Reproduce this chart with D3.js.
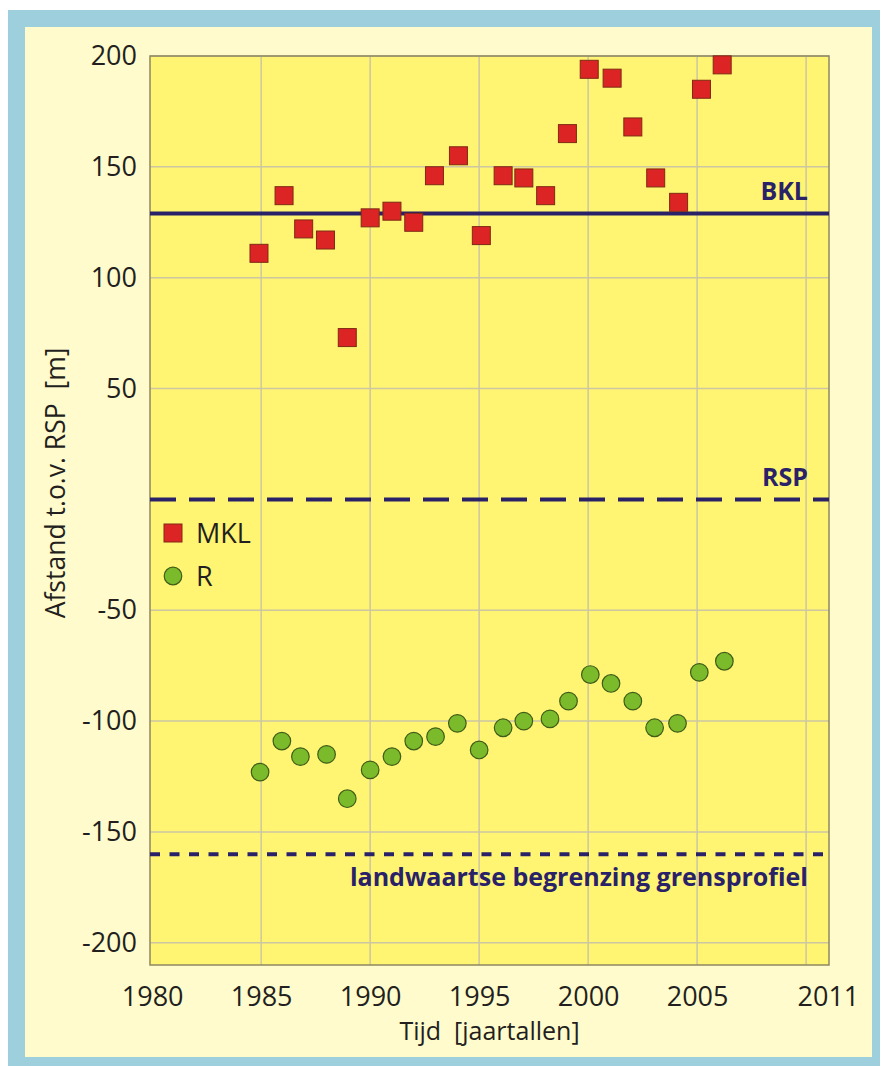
<!DOCTYPE html>
<html>
<head>
<meta charset="utf-8">
<script src="https://cdn.jsdelivr.net/npm/d3@7/dist/d3.min.js"></script>
<style>
  html, body { margin: 0; padding: 0; background: #ffffff; }
  svg { display: block; font-family: "Open Sans", "Noto Sans", sans-serif; }
  .pre { white-space: pre; }
</style>
</head>
<body>
<svg id="chart" width="882" height="1066"></svg>
<script>
// Kustlijnposities t.o.v. RSP (meetjaar, afstand in m)
const mklYears  = [1984.9, 1986.05, 1986.95, 1987.95, 1988.95, 1990.0, 1991.0, 1992.0, 1992.95, 1994.05, 1995.1,
                   1996.1, 1997.05, 1998.05, 1999.05, 2000.05, 2001.1, 2002.05, 2003.1, 2004.15, 2005.2, 2006.15];
const mklValues = [111, 137, 122, 117, 73, 127, 130, 125, 146, 155, 119,
                   146, 145, 137, 165, 194, 190, 168, 145, 134, 185, 196];

const rYears  = [1984.95, 1985.95, 1986.8, 1988.0, 1988.95, 1990.0, 1991.0, 1992.0, 1993.0, 1994.0, 1995.0,
                 1996.1, 1997.05, 1998.25, 1999.1, 2000.1, 2001.05, 2002.05, 2003.05, 2004.1, 2005.1, 2006.25];
const rValues = [-123, -109, -116, -115, -135, -122, -116, -109, -107, -101, -113,
                 -103, -100, -99, -91, -79, -83, -91, -103, -101, -78, -73];

// Referentielijnen
const refLines = [
  { key: "BKL", value: 129, label: "BKL" },
  { key: "RSP", value: 0, label: "RSP" },
  { key: "GP",  value: -160, label: "landwaartse begrenzing grensprofiel" }
];

const xTickLabels = [1980, 1985, 1990, 1995, 2000, 2005, 2011];
const xGridValues = [1985, 1990, 1995, 2000, 2005, 2010];
const yTickLabels = [200, 150, 100, 50, -50, -100, -150, -200];

const seriesNames = ["MKL", "R"];

// Layout
const W = 882, H = 1066;
const plot = { left: 150, right: 829, top: 56, bottom: 965 };

const colors = {
  frame: "#9dcfdc",
  panel: "#fffbcc",
  plotBg: "#fff573",
  grid: "#cdc6a2",
  border: "#8e8762",
  navy: "#2a2268",
  text: "#231f20",
  red: "#dc2424",
  redStroke: "#7e2a14",
  green: "#7bbb2b",
  greenStroke: "#3f5c18"
};

const svg = d3.select("#chart");

// Kader
svg.append("rect").attr("x", 8).attr("y", 10).attr("width", 872).attr("height", H)
  .attr("fill", colors.frame);
svg.append("rect").attr("x", 25).attr("y", 27).attr("width", 847).attr("height", 1030)
  .attr("fill", colors.panel);

const x = d3.scaleLinear().domain([1979.9, 2011.05]).range([plot.left, plot.right]);
const y = d3.scaleLinear().domain([-210, 200]).range([plot.bottom, plot.top]);

// Plotvlak
svg.append("rect")
  .attr("x", plot.left).attr("y", plot.top)
  .attr("width", plot.right - plot.left).attr("height", plot.bottom - plot.top)
  .attr("fill", colors.plotBg);

// Rasterlijnen
const grid = svg.append("g").attr("class", "grid");
grid.selectAll("line.v").data(xGridValues).join("line")
  .attr("class", "v")
  .attr("x1", d => x(d)).attr("x2", d => x(d))
  .attr("y1", plot.top).attr("y2", plot.bottom)
  .attr("stroke", colors.grid).attr("stroke-width", 1.5);
grid.selectAll("line.h").data(yTickLabels).join("line")
  .attr("class", "h")
  .attr("x1", plot.left).attr("x2", plot.right)
  .attr("y1", d => y(d)).attr("y2", d => y(d))
  .attr("stroke", colors.grid).attr("stroke-width", 1.5);

// Assen (alleen labels, met gewoon streepje als minteken)
const plain = d => String(d);
const yAxis = svg.append("g")
  .attr("transform", `translate(${plot.left},0)`)
  .call(d3.axisLeft(y).tickValues(yTickLabels).tickSize(0).tickPadding(13).tickFormat(plain));
yAxis.select(".domain").remove();
yAxis.selectAll("text")
  .attr("font-size", 27).attr("fill", colors.text)
  .attr("font-family", "'Open Sans', sans-serif");

const xAxis = svg.append("g")
  .attr("transform", `translate(0,${plot.bottom})`)
  .call(d3.axisBottom(x).tickValues(xTickLabels).tickSize(0).tickPadding(22).tickFormat(plain));
xAxis.select(".domain").remove();
xAxis.selectAll("text")
  .attr("font-size", 27).attr("fill", colors.text)
  .attr("font-family", "'Open Sans', sans-serif");

// Rand van het plotvlak
svg.append("rect")
  .attr("x", plot.left).attr("y", plot.top)
  .attr("width", plot.right - plot.left).attr("height", plot.bottom - plot.top)
  .attr("fill", "none").attr("stroke", colors.border).attr("stroke-width", 1.5);

// Referentielijnen
const dashes = { BKL: null, RSP: "26,13", GP: "10,9.5" };
const refG = svg.append("g");
refG.selectAll("line").data(refLines).join("line")
  .attr("x1", plot.left).attr("x2", plot.right)
  .attr("y1", d => y(d.value)).attr("y2", d => y(d.value))
  .attr("stroke", colors.navy).attr("stroke-width", 4)
  .attr("stroke-dasharray", d => dashes[d.key]);

refG.selectAll("text").data(refLines).join("text")
  .attr("x", plot.right - 21)
  .attr("y", d => d.key === "GP" ? y(d.value) + 32 : y(d.value) - 13)
  .attr("text-anchor", "end")
  .attr("font-size", 25).attr("font-weight", 700)
  .attr("fill", colors.navy)
  .text(d => d.label);

// MKL: vierkanten
const sq = 18;
const mkl = mklYears.map((yr, i) => ({ year: yr, value: mklValues[i] }));
svg.append("g").selectAll("rect").data(mkl).join("rect")
  .attr("x", d => x(d.year) - sq / 2)
  .attr("y", d => y(d.value) - sq / 2)
  .attr("width", sq).attr("height", sq)
  .attr("fill", colors.red).attr("stroke", colors.redStroke).attr("stroke-width", 1);

// R: cirkels
const rad = 8.8;
const rPts = rYears.map((yr, i) => ({ year: yr, value: rValues[i] }));
svg.append("g").selectAll("circle").data(rPts).join("circle")
  .attr("cx", d => x(d.year))
  .attr("cy", d => y(d.value))
  .attr("r", rad)
  .attr("fill", colors.green).attr("stroke", colors.greenStroke).attr("stroke-width", 1.2);

// Legenda
const legend = svg.append("g").attr("transform", "translate(173,533)");
legend.append("rect").attr("x", -sq / 2).attr("y", -sq / 2).attr("width", sq).attr("height", sq)
  .attr("fill", colors.red).attr("stroke", colors.redStroke).attr("stroke-width", 1);
legend.append("circle").attr("cx", 0).attr("cy", 43).attr("r", rad)
  .attr("fill", colors.green).attr("stroke", colors.greenStroke).attr("stroke-width", 1.2);
legend.selectAll("text").data(seriesNames).join("text")
  .attr("x", 23).attr("y", (d, i) => 10 + i * 43)
  .attr("font-size", 27).attr("fill", colors.text)
  .text(d => d);

// Astitels
svg.append("text")
  .attr("class", "pre")
  .attr("x", (plot.left + plot.right) / 2).attr("y", 1040)
  .attr("text-anchor", "middle")
  .attr("font-size", 25).attr("fill", colors.text)
  .text("Tijd  [jaartallen]");

svg.append("text")
  .attr("class", "pre")
  .attr("transform", "translate(65,483) rotate(-90)")
  .attr("text-anchor", "middle")
  .attr("font-size", 26.5).attr("fill", colors.text)
  .text("Afstand t.o.v. RSP  [m]");
</script>
</body>
</html>
